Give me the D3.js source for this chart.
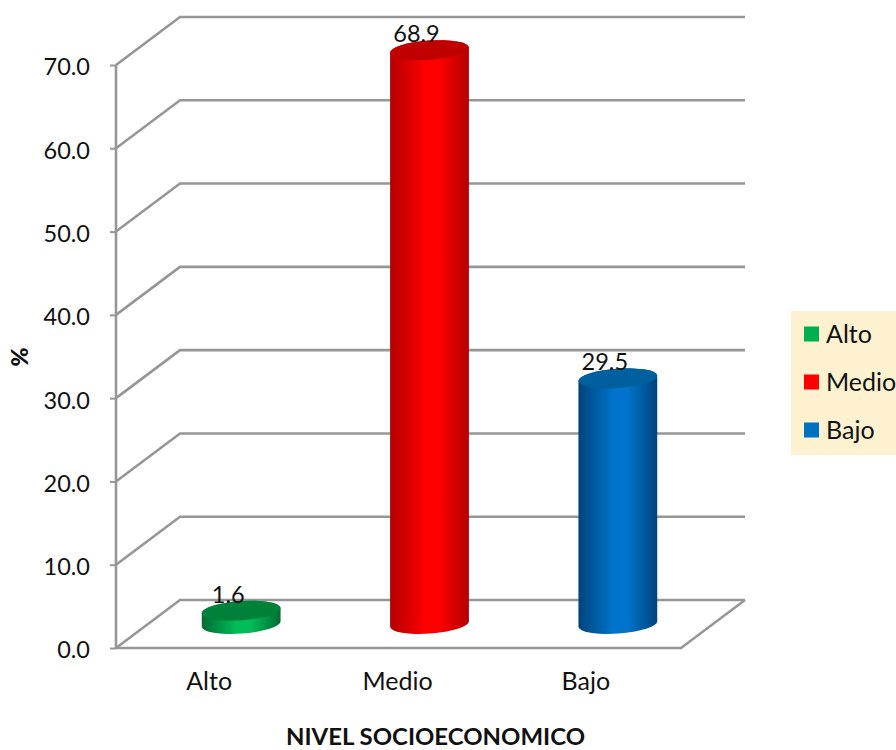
<!DOCTYPE html>
<html>
<head>
<meta charset="utf-8">
<script src="https://cdn.jsdelivr.net/npm/d3@7/dist/d3.min.js"></script>
<style>
html,body{margin:0;padding:0;background:#fff;overflow:hidden}
svg{display:block}
text{font-family:Lato,"Open Sans",sans-serif;fill:#111}
</style>
</head>
<body>
<svg id="chart" width="896" height="750"></svg>
<script>
const categories = ["Alto", "Medio", "Bajo"];
const values = [1.6, 68.9, 29.5];
const yTicks = [0, 10, 20, 30, 40, 50, 60, 70];
const sideColors = [
  ["#006b34", "#00bd58"],
  ["#b40000", "#ff0000"],
  ["#00447a", "#0074cc"]
];
const topColors = ["#00813a", "#c00000", "#005f9e"];
const legendColors = ["#00b050", "#ff0000", "#0070c0"];
const yTitle = "%";
const xTitle = "NIVEL SOCIOECONOMICO";

const svg = d3.select("#chart");
const grid = "#969696";
const numberSize = "23.5px";
const wordSize = "25px";

// Oblique projection of the 3D box: the back wall sits up and to the right of the front plane
const depth = { x: 64, y: -48 };
const y = d3.scaleLinear().domain([0, 70]).range([648, 65]);
const x = d3.scaleBand().domain(categories).range([116, 681]);

// Side wall and back wall gridlines
const gridG = svg.append("g").attr("fill", "none").attr("stroke", grid).attr("stroke-width", 2.6);
yTicks.forEach(t => {
  gridG.append("path").attr("d", d3.line()([
    [116, y(t)],
    [116 + depth.x, y(t) + depth.y],
    [745, y(t) + depth.y]
  ]));
});

// Floor front edge and right edge
gridG.append("path").attr("d", d3.line()([
  [116, y(0)],
  [681, y(0)],
  [745, y(0) + depth.y]
]));

// Value axis
const axis = d3.axisLeft(y).tickValues(yTicks).tickSize(6).tickPadding(20).tickFormat(d3.format(".1f"));
const axisG = svg.append("g").attr("transform", "translate(116,0)").call(axis);
axisG.select(".domain").attr("stroke", grid).attr("stroke-width", 2.6).attr("d", `M0,${y(70)}V${y(0)}`);
axisG.selectAll(".tick line").attr("stroke", grid).attr("stroke-width", 2);
axisG.selectAll(".tick text").style("font-size", numberSize).attr("fill", "#111").attr("dy", "0.42em");

// Category axis labels
svg.append("g").selectAll("text").data(categories).join("text")
  .attr("x", d => x(d) + x.bandwidth() / 2 - 1)
  .attr("y", 690)
  .attr("text-anchor", "middle")
  .style("font-size", wordSize)
  .text(d => d);

// Cylinders
const defs = svg.append("defs");
const rx = 39.5, ry = 9.6, tilt = -4;
const dx = rx * Math.cos(tilt * Math.PI / 180);
const dy = rx * Math.sin(tilt * Math.PI / 180);

values.forEach((v, i) => {
  const id = "side" + i;
  const g = defs.append("linearGradient").attr("id", id);
  g.append("stop").attr("offset", "0%").attr("stop-color", sideColors[i][0]);
  g.append("stop").attr("offset", "45%").attr("stop-color", sideColors[i][1]);
  g.append("stop").attr("offset", "62%").attr("stop-color", sideColors[i][1]);
  g.append("stop").attr("offset", "100%").attr("stop-color", sideColors[i][0]);

  const cx = x(categories[i]) + x.bandwidth() / 2 + depth.x / 2 - 1;
  const base = y(0) + depth.y / 2;
  const top = y(v) + depth.y / 2;
  svg.append("path")
    .attr("fill", `url(#${id})`)
    .attr("d", `M${cx - dx},${top - dy}L${cx - dx},${base - dy}` +
      `A${rx},${ry} ${tilt} 0 0 ${cx + dx},${base + dy}` +
      `L${cx + dx},${top + dy}` +
      `A${rx},${ry} ${tilt} 0 0 ${cx - dx},${top - dy}Z`);
  svg.append("ellipse")
    .attr("cx", cx).attr("cy", top).attr("rx", rx).attr("ry", ry)
    .attr("transform", `rotate(${tilt} ${cx} ${top})`)
    .attr("fill", topColors[i]);
  svg.append("text")
    .attr("x", cx - 13)
    .attr("y", top - 8)
    .attr("text-anchor", "middle")
    .style("font-size", numberSize)
    .text(d3.format(".1f")(v));
});

// Legend
const legend = svg.append("g");
legend.append("rect").attr("x", 791).attr("y", 311).attr("width", 105).attr("height", 144).attr("fill", "#fdf1cf");
const legendY = d3.scalePoint().domain(categories).range([334, 430]);
categories.forEach((c, i) => {
  legend.append("rect").attr("x", 804).attr("y", legendY(c) - 7.5).attr("width", 15).attr("height", 15).attr("fill", legendColors[i]);
  legend.append("text").attr("x", 826).attr("y", legendY(c)).attr("dy", "0.36em").style("font-size", wordSize).text(c);
});

// Axis titles
svg.append("text")
  .attr("transform", "translate(28,357) rotate(-90)")
  .attr("text-anchor", "middle")
  .style("font-size", "23px").style("font-weight", "900")
  .text(yTitle);
svg.append("text")
  .attr("x", 435.5).attr("y", 745)
  .attr("text-anchor", "middle")
  .attr("textLength", 299).attr("lengthAdjust", "spacingAndGlyphs")
  .style("font-size", "22.5px").style("font-weight", "700")
  .text(xTitle);
</script>
</body>
</html>
